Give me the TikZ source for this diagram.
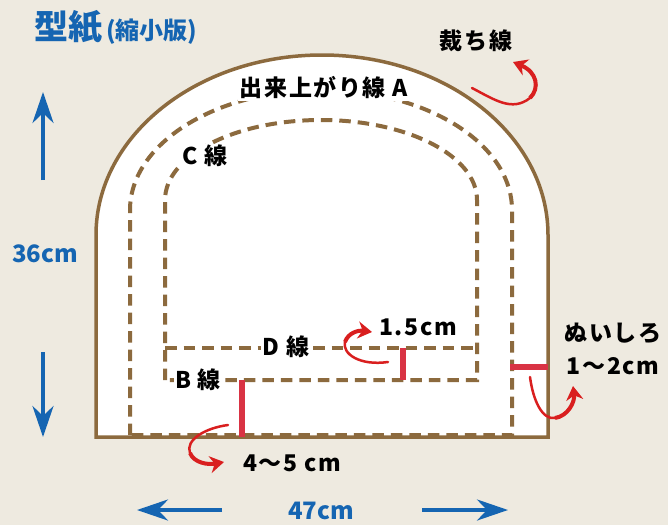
\documentclass[tikz,border=0pt]{standalone}
\usepackage{fontspec}
\setmainfont{Noto Sans CJK JP}
\usetikzlibrary{arrows.meta}
\definecolor{bg}{HTML}{EEEAE0}
\definecolor{brn}{HTML}{8C6A3E}
\definecolor{blu}{HTML}{1565B2}
\definecolor{rbar}{HTML}{D93344}
\definecolor{rarr}{HTML}{D91F1F}
\tikzset{
  lbl/.style={font=\bfseries\fontsize{23}{23}\selectfont\addfontfeature{LetterSpace=7}, text=black, inner sep=1.5pt},
  wlbl/.style={lbl, fill=white},
  blbl/.style={font=\bfseries\fontsize{24}{24}\selectfont, text=blu, inner sep=0pt},
  dsh/.style={draw=brn, line width=4pt, dash pattern=on 11.5pt off 7pt},
  solidline/.style={draw=brn, line width=3.5pt},
  redbar/.style={draw=rbar, line width=6pt},
  curlthin/.style={draw=rarr, line width=2.5pt, line cap=round},
  curl/.style={draw=rarr, line width=4pt, -{Stealth[length=14pt,width=17pt]}},
  bluearrow/.style={draw=blu, line width=4pt, -{Stealth[length=31pt,width=21pt,inset=10pt]}},
}
\begin{document}
\begin{tikzpicture}[x=1pt,y=-1pt]
\useasboundingbox (0,0) rectangle (668,525);
\fill[bg] (0,0) rectangle (668,525);
% outer cut line
\path[solidline, fill=white] (96,437) -- (96,235) .. controls (96,135.6) and (197.2,55) .. (322,55)
  .. controls (446.8,55) and (548,135.6) .. (548,235) -- (548,437) -- cycle;
% finished line A
\path[dsh] (130,435) -- (130,210) .. controls (130,143.7) and (215.5,90) .. (321,90)
  .. controls (426.5,90) and (512,143.7) .. (512,210) -- (512,435) -- cycle;
% C line with B line
\path[dsh] (165,380) -- (165,200) .. controls (165,155.8) and (234.8,120) .. (321,120)
  .. controls (407.2,120) and (477,155.8) .. (477,200) -- (477,380) -- cycle;
% D line
\coordinate (d1) at (165,348);
\coordinate (d2) at (477,348);
\path[dsh] (d1) -- (d2);
% red bars
\coordinate (rb1a) at (242,380); \coordinate (rb1b) at (242,437);
\coordinate (rb2a) at (403,348); \coordinate (rb2b) at (403,380);
\coordinate (rb3a) at (510,367); \coordinate (rb3b) at (548,367);
\draw[redbar] (rb1a) -- (rb1b);
\draw[redbar] (rb2a) -- (rb2b);
\draw[redbar] (rb3a) -- (rb3b);
% labels
\node[wlbl] (la) at (324,88) {出来上がり線 A};
\node[wlbl] (lc) at (205,156) {C 線};
\node[wlbl] (ld) at (286,347) {D 線};
\node[wlbl] (lb) at (198,380) {B 線};
\node[lbl] (lcut) at (476,41) {裁ち線};
\node[lbl] (l15) at (418,327) {1.5cm};
\node[lbl] (lnui) at (613,333) {ぬいしろ};
\node[lbl] (l12) at (613,366) {1〜2cm};
\node[lbl] (l45) at (292,463) {4〜5 cm};
% title
\node[anchor=west, inner sep=0pt, text=blu, font=\bfseries] (title) at (34,27)
  {{\fontsize{34}{34}\selectfont 型紙}{\fontsize{24}{24}\selectfont\,(縮小版)}};
% dimensions
\node[blbl] (h) at (45,254) {36cm};
\node[blbl] (w) at (321,511) {47cm};
\coordinate (ua) at (43,180); \coordinate (ub) at (43,92);
\coordinate (da) at (43,352); \coordinate (db) at (43,437);
\coordinate (la1) at (222,510); \coordinate (la2) at (137,510);
\coordinate (ra1) at (422,510); \coordinate (ra2) at (508,510);
\draw[bluearrow] (ua) -- (ub);
\draw[bluearrow] (da) -- (db);
\draw[bluearrow] (la1) -- (la2);
\draw[bluearrow] (ra1) -- (ra2);
% red curly arrows
\coordinate (c1a) at (472,88); \coordinate (c1m) at (530,98); \coordinate (c1b) at (513,62);
\draw[curlthin] (c1a) .. controls (495,100) and (512,112) .. (c1m);
\draw[curl] (c1m) .. controls (540,88) and (537,72) .. (c1b);
\coordinate (c2a) at (388,362); \coordinate (c2m) at (345,342); \coordinate (c2b) at (372,332);
\draw[curlthin] (c2a) .. controls (360,366) and (342,354) .. (c2m);
\draw[curl] (c2m) .. controls (348,333) and (358,330) .. (c2b);
\coordinate (c3a) at (228,425); \coordinate (c3m) at (190,453); \coordinate (c3b) at (224,462);
\draw[curlthin] (c3a) .. controls (205,428) and (185,440) .. (c3m);
\draw[curl] (c3m) .. controls (194,463) and (208,465) .. (c3b);
\coordinate (c4a) at (530,377); \coordinate (c4m) at (555,418); \coordinate (c4b) at (573,386);
\draw[curlthin] (c4a) .. controls (533,400) and (542,420) .. (c4m);
\draw[curl] (c4m) .. controls (568,416) and (575,402) .. (c4b);
\end{tikzpicture}
\end{document}
